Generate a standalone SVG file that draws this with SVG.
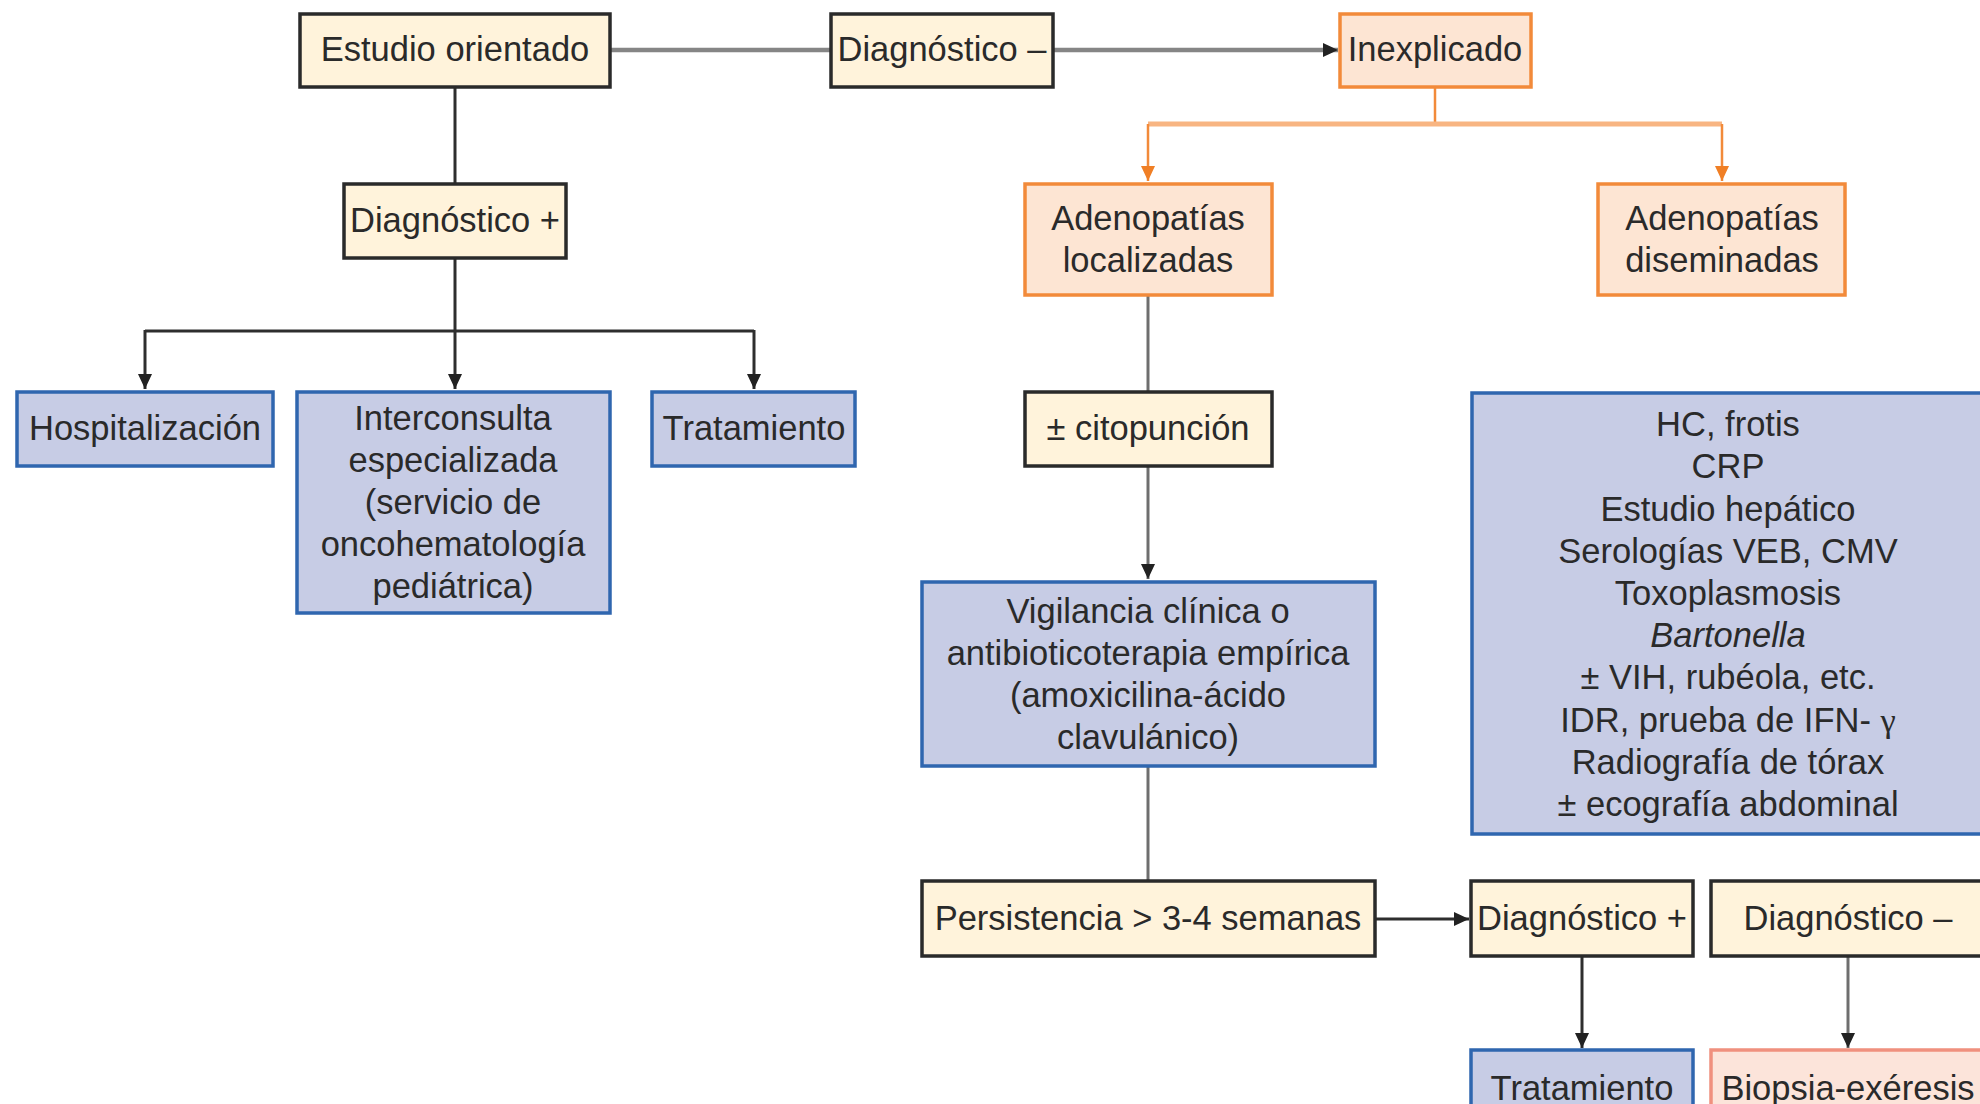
<svg xmlns="http://www.w3.org/2000/svg" width="1980" height="1104" viewBox="0 0 1980 1104">
<style>
  text { font-family: "Liberation Sans", Arial, sans-serif; font-size: 34.5px; fill: #2a2a2a; text-anchor: middle; }
  .cream { fill: #FFF3DB; stroke: #2a2a2a; stroke-width: 3.5; }
  .orange { fill: #FDE5D3; stroke: #F28A3A; stroke-width: 3.5; }
  .blue { fill: #C7CCE5; stroke: #2F66AF; stroke-width: 3.5; }
  .salmon { fill: #FCE4DA; stroke: #F0907E; stroke-width: 3.5; }
  .c-gray { stroke: #858585; stroke-width: 4.5; fill: none; }
  .c-dark { stroke: #2e2e2e; stroke-width: 3; fill: none; }
  .c-mid { stroke: #6e6e6e; stroke-width: 3; fill: none; }
  .c-or { stroke: #F28A3A; stroke-width: 2.5; fill: none; }
  .c-orl { stroke: #F8B582; stroke-width: 5; fill: none; }
</style>
<defs>
  <marker id="ad" markerUnits="userSpaceOnUse" markerWidth="16" markerHeight="16" refX="15" refY="8" orient="auto">
    <path d="M0,1 L15,8 L0,15 z" fill="#222"/>
  </marker>
  <marker id="ao" markerUnits="userSpaceOnUse" markerWidth="16" markerHeight="16" refX="15" refY="8" orient="auto">
    <path d="M0,1 L15,8 L0,15 z" fill="#F07F25"/>
  </marker>
</defs>
<rect width="1980" height="1104" fill="#ffffff"/>

<g id="connectors">
  <line class="c-gray" x1="610" y1="50" x2="831" y2="50"/>
  <line class="c-gray" x1="1053" y1="50" x2="1338" y2="50" marker-end="url(#ad)"/>
  <line class="c-dark" x1="455" y1="87" x2="455" y2="184"/>
  <line class="c-dark" x1="455" y1="258" x2="455" y2="389" marker-end="url(#ad)"/>
  <line class="c-dark" x1="145" y1="331" x2="754" y2="331"/>
  <line class="c-dark" x1="145" y1="330" x2="145" y2="389" marker-end="url(#ad)"/>
  <line class="c-dark" x1="754" y1="330" x2="754" y2="389" marker-end="url(#ad)"/>
  <line class="c-or" x1="1435" y1="87" x2="1435" y2="124"/>
  <line class="c-orl" x1="1148" y1="124" x2="1722" y2="124"/>
  <line class="c-or" x1="1148" y1="124" x2="1148" y2="181" marker-end="url(#ao)"/>
  <line class="c-or" x1="1722" y1="124" x2="1722" y2="181" marker-end="url(#ao)"/>
  <line class="c-mid" x1="1148" y1="295" x2="1148" y2="392"/>
  <line class="c-mid" x1="1148" y1="466" x2="1148" y2="579" marker-end="url(#ad)"/>
  <line class="c-mid" x1="1148" y1="766" x2="1148" y2="881"/>
  <line class="c-dark" x1="1375" y1="919" x2="1469" y2="919" marker-end="url(#ad)"/>
  <line class="c-dark" x1="1582" y1="956" x2="1582" y2="1048" marker-end="url(#ad)"/>
  <line class="c-mid" x1="1848" y1="956" x2="1848" y2="1048" marker-end="url(#ad)"/>
</g>

<g id="n-estudio">
  <rect class="cream" x="300" y="14" width="310" height="73"/>
  <text x="455" y="61">Estudio orientado</text>
</g>
<g id="n-diag-neg-top">
  <rect class="cream" x="831" y="14" width="222" height="73"/>
  <text x="942" y="61">Diagnóstico –</text>
</g>
<g id="n-inexplicado">
  <rect class="orange" x="1340" y="14" width="191" height="73"/>
  <text x="1435" y="61">Inexplicado</text>
</g>
<g id="n-diag-pos-left">
  <rect class="cream" x="344" y="184" width="222" height="74"/>
  <text x="455" y="232">Diagnóstico +</text>
</g>
<g id="n-aden-loc">
  <rect class="orange" x="1025" y="184" width="247" height="111"/>
  <text x="1148" y="230">Adenopatías</text>
  <text x="1148" y="272">localizadas</text>
</g>
<g id="n-aden-dis">
  <rect class="orange" x="1598" y="184" width="247" height="111"/>
  <text x="1722" y="230">Adenopatías</text>
  <text x="1722" y="272">diseminadas</text>
</g>
<g id="n-hosp">
  <rect class="blue" x="17" y="392" width="256" height="74"/>
  <text x="145" y="440">Hospitalización</text>
</g>
<g id="n-interconsulta">
  <rect class="blue" x="297" y="392" width="313" height="221"/>
  <text x="453" y="430">Interconsulta</text>
  <text x="453" y="472">especializada</text>
  <text x="453" y="514">(servicio de</text>
  <text x="453" y="556">oncohematología</text>
  <text x="453" y="598">pediátrica)</text>
</g>
<g id="n-tratamiento-1">
  <rect class="blue" x="652" y="392" width="203" height="74"/>
  <text x="754" y="440">Tratamiento</text>
</g>
<g id="n-citopuncion">
  <rect class="cream" x="1025" y="392" width="247" height="74"/>
  <text x="1148" y="440">± citopunción</text>
</g>
<g id="n-vigilancia">
  <rect class="blue" x="922" y="582" width="453" height="184"/>
  <text x="1148" y="623">Vigilancia clínica o</text>
  <text x="1148" y="665">antibioticoterapia empírica</text>
  <text x="1148" y="707">(amoxicilina-ácido</text>
  <text x="1148" y="749">clavulánico)</text>
</g>
<g id="n-estudios">
  <rect class="blue" x="1472" y="393" width="520" height="441"/>
  <text x="1728" y="436">HC, frotis</text>
  <text x="1728" y="478">CRP</text>
  <text x="1728" y="521">Estudio hepático</text>
  <text x="1728" y="563">Serologías VEB, CMV</text>
  <text x="1728" y="605">Toxoplasmosis</text>
  <text x="1728" y="647" font-style="italic">Bartonella</text>
  <text x="1728" y="689">± VIH, rubéola, etc.</text>
  <text x="1728" y="732">IDR, prueba de IFN- <tspan font-family="Liberation Serif, serif">γ</tspan></text>
  <text x="1728" y="774">Radiografía de tórax</text>
  <text x="1728" y="816">± ecografía abdominal</text>
</g>
<g id="n-persistencia">
  <rect class="cream" x="922" y="881" width="453" height="75"/>
  <text x="1148" y="930">Persistencia &gt; 3-4 semanas</text>
</g>
<g id="n-diag-pos-right">
  <rect class="cream" x="1471" y="881" width="222" height="75"/>
  <text x="1582" y="930">Diagnóstico +</text>
</g>
<g id="n-diag-neg-right">
  <rect class="cream" x="1711" y="881" width="280" height="75"/>
  <text x="1848" y="930">Diagnóstico –</text>
</g>
<g id="n-tratamiento-2">
  <rect class="blue" x="1471" y="1050" width="222" height="76"/>
  <text x="1582" y="1100">Tratamiento</text>
</g>
<g id="n-biopsia">
  <rect class="salmon" x="1711" y="1050" width="280" height="76"/>
  <text x="1848" y="1100">Biopsia-exéresis</text>
</g>
</svg>
